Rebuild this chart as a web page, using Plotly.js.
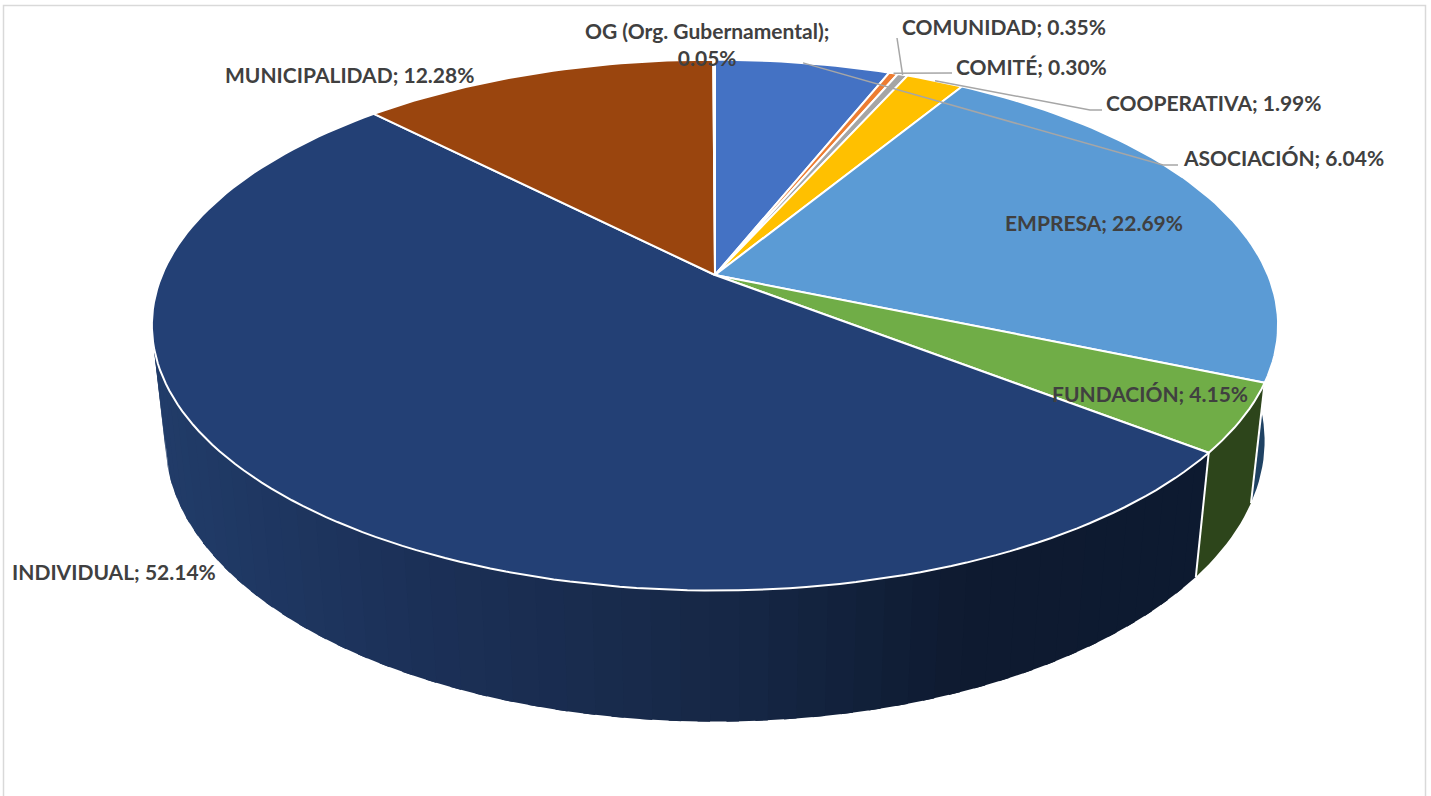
<!DOCTYPE html>
<html>
<head>
<meta charset="utf-8">
<script src="https://cdn.plot.ly/plotly-3.0.1.min.js"></script>
<style>html,body{margin:0;padding:0;background:#fff;overflow:hidden}#chart{width:1431px;height:796px}</style>
</head>
<body>
<div id="chart"></div>
<script>
// Data, clockwise from 12 o'clock
const categories = ["ASOCIACIÓN","COMITÉ","COMUNIDAD","COOPERATIVA","EMPRESA","FUNDACIÓN","INDIVIDUAL","MUNICIPALIDAD","OG (Org. Gubernamental)"];
const values = [6.04,0.30,0.35,1.99,22.69,4.15,52.14,12.28,0.05];
const topColors = ["#4472c4","#ed7d31","#a5a5a5","#ffc000","#5b9bd5","#70ad47","#234075","#9a450e","#636363"];
const wallColors = ["#2a4375","#8f4b1d","#646464","#9a7400","#1f4263","#2d451b",null,"#5f2b08","#3c3c3c"];
// Individual's wall is shaded by horizontal position
const shadeX = [155,384,732,960,1210];
const shadeRGB = [[33,60,105],[28,49,89],[22,39,69],[14,26,48],[13,26,48]];
// Label placement (left x, centre y), and leader waypoints after the slice rim point
const labelX = [1182,955,901,1105,1004,1051,11,224,707];
const labelY = [157,66,26,102,222,393,571,74,44];
const labelAnchor = ["left","left","left","left","left","left","left","left","center"];
const leaderX = [[1163,1178],[952],[897],[1090,1102],null,null,null,null,null];
const leaderY = [[165,165],[73],[38],[110,110],null,null,null,null,null];

// Perspective camera for the tilted disc, in screen pixels
const cam = {cx:715, cy:275, A:553, B:256, C:117, k:0.1887, m:0.0237};
function project(pct, r, z){
  const t = 2*Math.PI*pct/100, u = r*Math.sin(t), v = r*Math.cos(t);
  const w = 1 + cam.k*v + cam.m*z;
  return [cam.cx + cam.A*u/w, cam.cy + (-cam.B*v + cam.C*z)/w];
}
function shade(x){
  let i = 0;
  while(i < shadeX.length-2 && x > shadeX[i+1]) i++;
  const f = Math.min(1, Math.max(0, (x-shadeX[i])/(shadeX[i+1]-shadeX[i])));
  const c = shadeRGB[i].map((a,j)=>Math.round(a+(shadeRGB[i+1][j]-a)*f));
  return `rgb(${c[0]},${c[1]},${c[2]})`;
}
const traces = [];
function poly(xs, ys, fill, lineColor, lineWidth){
  traces.push({type:"scatter",mode:"lines",x:xs,y:ys,fill:"toself",fillcolor:fill,
    line:{color:lineColor,width:lineWidth},hoverinfo:"skip",showlegend:false});
}
// A wall piece between two percentages, following the rim
function wallPiece(a,b,col){
  const n = Math.max(1,Math.ceil((b-a)/0.4)), up=[], down=[];
  for(let s=0;s<=n;s++){
    const q = a+(b-a)*s/n;
    up.push(project(q,1,0)); down.unshift(project(q,1,1));
  }
  const pts = up.concat(down); pts.push(up[0]);
  poly(pts.map(q=>q[0]),pts.map(q=>q[1]),col,"rgba(0,0,0,0)",0);
}
// Cumulative boundaries
const starts = []; let run = 0;
values.forEach(v=>{starts.push(run); run += v;});
// Walls: plain slices in one piece; the shaded one in overlapping strips
const stripPct = 0.7;
values.forEach((val,i)=>{
  const end = starts[i]+val;
  if(Math.cos(2*Math.PI*(starts[i]+val/2)/100) > 0.75 && wallColors[i]) return;
  if(wallColors[i]){ wallPiece(starts[i],end,wallColors[i]); return; }
  const n = Math.ceil(val/stripPct);
  for(let s=0;s<n;s++){
    const a = starts[i]+val*s/n;
    if(Math.cos(2*Math.PI*a/100) > 0.3) continue;
    const b = Math.min(end, a+val/n+0.3);
    const mid = project((a+b)/2,1,0.5);
    wallPiece(a,b,shade(mid[0]));
  }
});
// White edges between wall pieces
starts.forEach(st=>{
  if(Math.cos(2*Math.PI*st/100) < 0){
    const a = project(st,1,0), b = project(st,1,1);
    traces.push({type:"scatter",mode:"lines",x:[a[0],b[0]],y:[a[1],b[1]],
      line:{color:"#ffffff",width:2},hoverinfo:"skip",showlegend:false});
  }
});
// Top face
values.forEach((val,i)=>{
  const n = Math.max(2, Math.ceil(val/0.4));
  const xs=[cam.cx], ys=[cam.cy];
  for(let s=0;s<=n;s++){
    const p = project(starts[i]+val*s/n,1,0);
    xs.push(p[0]); ys.push(p[1]);
  }
  xs.push(cam.cx); ys.push(cam.cy);
  poly(xs,ys,topColors[i],"#ffffff",2);
});
// Leader lines
values.forEach((val,i)=>{
  if(!leaderX[i]) return;
  const p = project(starts[i]+val/2,1,0);
  traces.push({type:"scatter",mode:"lines",x:[p[0]].concat(leaderX[i]),y:[p[1]].concat(leaderY[i]),
    line:{color:"#a6a6a6",width:1.5},hoverinfo:"skip",showlegend:false});
});
// Labels
const annotations = categories.map((c,i)=>({
  xref:"x",yref:"y",x:labelX[i],y:labelY[i],xanchor:labelAnchor[i],yanchor:"middle",showarrow:false,
  align:"center",
  text: c.startsWith("OG") ? `${c};<br>${values[i].toFixed(2)}%` : `${c}; ${values[i].toFixed(2)}%`,
  font:{family:"Lato, 'Open Sans', sans-serif",size:21,color:"#404040",weight:700},
  borderpad:0
}));
const frame = {type:"rect",xref:"x",yref:"y",x0:3.5,x1:1425.5,y0:5.5,y1:830,line:{color:"#d9d9d9",width:1.5},fillcolor:"rgba(0,0,0,0)",layer:"below"};
const layout = {
  width:1431,height:796,margin:{l:0,r:0,t:0,b:0},paper_bgcolor:"#ffffff",plot_bgcolor:"#ffffff",
  showlegend:false,
  xaxis:{range:[0,1431],visible:false,fixedrange:true},
  yaxis:{range:[796,0],visible:false,fixedrange:true},
  annotations, shapes:[frame]
};
Plotly.newPlot("chart",traces,layout,{displayModeBar:false,staticPlot:true});
</script>
</body>
</html>
